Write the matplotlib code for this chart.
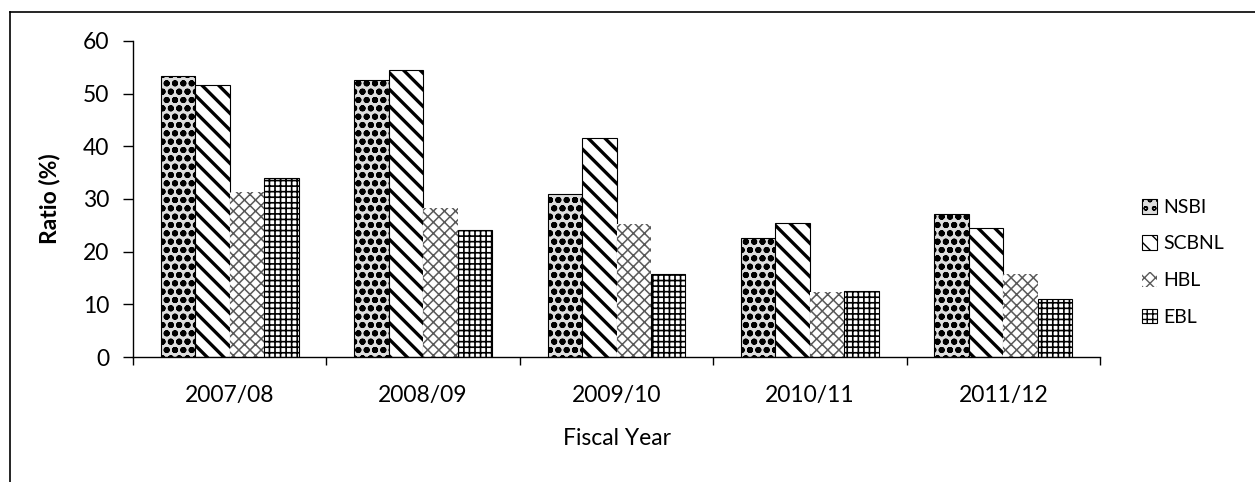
import numpy as np
import matplotlib
matplotlib.use('Agg')
import matplotlib.pyplot as plt
from matplotlib.lines import Line2D

# fiscal years and ratio (%) per bank
years = ['2007/08', '2008/09', '2009/10', '2010/11', '2011/12']
banks = ['NSBI', 'SCBNL', 'HBL', 'EBL']
nsbi = [53.3, 52.5, 31.0, 22.5, 27.2]
scbnl = [51.6, 54.4, 41.6, 25.4, 24.4]
hbl = [31.4, 28.2, 25.2, 12.3, 15.8]
ebl = [33.9, 24.1, 15.7, 12.6, 11.0]

plt.rcParams['font.family'] = ['Lato', 'DejaVu Sans']

# look of each series (hatch, face, edge, hatch line width)
styles = [
    ('oo', '#dddddd', 'black', 2.0),
    ('\\\\', 'white', 'black', 2.4),
    ('xxx', 'white', '#5a5a5a', 1.1),
    ('+++', 'white', 'black', 1.2),
]

fig = plt.figure(figsize=(12.55, 4.82), dpi=100)
ax = fig.add_axes([0.106, 0.2593, 0.7705, 0.6557])

x = np.arange(len(years))
w = 0.178
series = [nsbi, scbnl, hbl, ebl]
for i, (vals, name) in enumerate(zip(series, banks)):
    hatch, fc, ec, hlw = styles[i]
    with plt.rc_context({'hatch.linewidth': hlw, 'hatch.color': ec}):
        ax.bar(x + (i - 1.5) * w, vals, w, color=fc, edgecolor=ec,
               hatch=hatch, linewidth=0.8 if ec == 'black' else 0, label=name)

ax.set_xlim(-0.5, len(years) - 0.5)
ax.set_ylim(0, 60)
ax.set_yticks(np.arange(0, 61, 10))
ax.set_xticks(x)
ax.set_xticklabels(years)
ax.set_xticks(np.arange(-0.5, len(years), 1), minor=True)
ax.tick_params(axis='x', which='major', length=0, pad=20, labelsize=16.5)
ax.tick_params(axis='x', which='minor', length=6, direction='out', width=1)
ax.tick_params(axis='y', length=7, width=1, pad=10, labelsize=16.5)
for s in ['top', 'right']:
    ax.spines[s].set_visible(False)
ax.spines['left'].set_linewidth(1)
ax.spines['bottom'].set_linewidth(1)

ax.set_xlabel('Fiscal Year', fontsize=16.5, labelpad=16)
ax.set_ylabel('Ratio (%)', fontsize=16.5, fontweight='bold', labelpad=16)

ax.legend(loc='center left', bbox_to_anchor=(1.025, 0.30), frameon=False,
          fontsize=14, handlelength=0.8, handleheight=0.8, handletextpad=0.3,
          labelspacing=1.0)

# frame of the page
fig.add_artist(Line2D([0.008, 1.0], [0.975, 0.975], color='black', lw=1.2,
                      transform=fig.transFigure))
fig.add_artist(Line2D([0.008, 0.008], [0.0, 0.975], color='black', lw=1.2,
                      transform=fig.transFigure))

fig.savefig('out.png', dpi=100)
